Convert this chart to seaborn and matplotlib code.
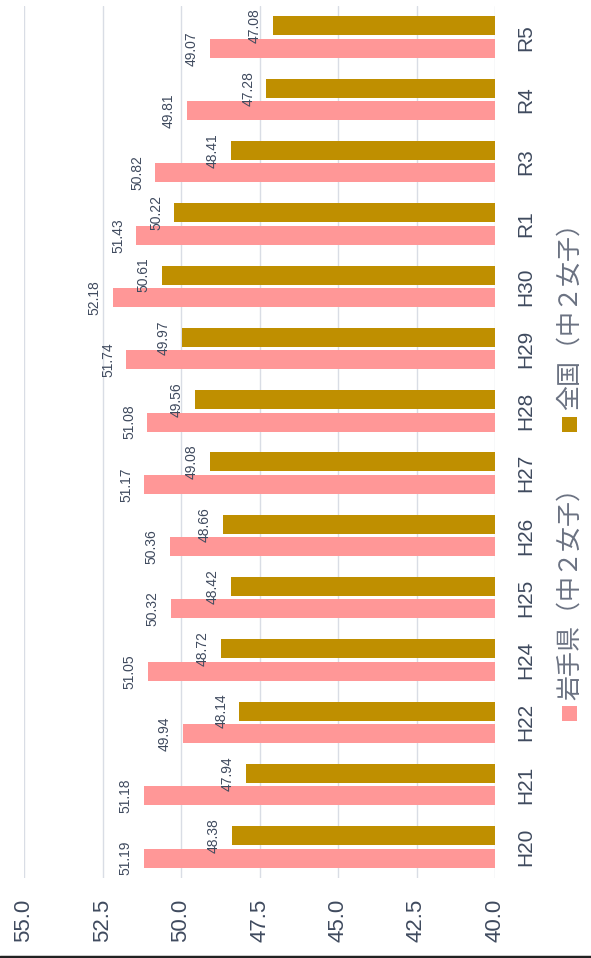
import pandas as pd
import numpy as np
import matplotlib
matplotlib.use("Agg")
import matplotlib.pyplot as plt
from matplotlib.patches import Rectangle
from matplotlib.lines import Line2D
import seaborn as sns

# data
years = ["H20", "H21", "H22", "H24", "H25", "H26", "H27", "H28", "H29", "H30", "R1", "R3", "R4", "R5"]
iwate = [51.19, 51.18, 49.94, 51.05, 50.32, 50.36, 51.17, 51.08, 51.74, 52.18, 51.43, 50.82, 49.81, 49.07]
zenkoku = [48.38, 47.94, 48.14, 48.72, 48.42, 48.66, 49.08, 49.56, 49.97, 50.61, 50.22, 48.41, 47.28, 47.08]
series = ["岩手県（中２女子）", "全国（中２女子）"]
value_ticks = [40.0, 42.5, 45.0, 47.5, 50.0, 52.5, 55.0]

df = pd.DataFrame({
    "year": years * 2,
    "score": iwate + zenkoku,
    "series": [series[0]] * len(years) + [series[1]] * len(years),
})

sns.set_style("white")
plt.rcParams['font.family'] = ['Liberation Sans', 'Noto Sans CJK JP', 'DejaVu Sans']

pink = "#FF9797"
gold = "#BF8F00"
txt = "#3f4a5e"

fig = plt.figure(figsize=(5.91, 9.58), dpi=100)
ax = fig.add_axes([24 / 591, 80 / 958, (495 - 24) / 591, (952 - 80) / 958])

sns.barplot(data=df, y="year", x="score", hue="series", order=years,
            hue_order=series, palette=[pink, gold], saturation=1, orient="h",
            errorbar=None, width=0.72, gap=0.15, linewidth=0,
            legend=False, ax=ax)

ax.set_xlim(55, 40)
ax.set_ylim(-0.5, len(years) - 0.5)
ax.set_xticks(value_ticks)
ax.set_xticklabels([f"{v:.1f}" for v in value_ticks], rotation=90,
                   fontsize=16, color=txt)
ax.yaxis.tick_right()
ax.set_yticks(range(len(years)))
ax.set_yticklabels(years, rotation=90, va="center", fontsize=15, color=txt)
ax.tick_params(axis="x", length=0, pad=15)
ax.tick_params(axis="y", length=0, pad=15)
ax.set_xlabel("")
ax.set_ylabel("")
for s in ax.spines.values():
    s.set_visible(False)
ax.grid(axis="x", color="#d9dde5", lw=1)
ax.set_axisbelow(True)

for cont in ax.containers:
    ax.bar_label(cont, labels=[f"{b.get_width():.2f}" for b in cont],
                 rotation=90, padding=8, fontsize=10, color=txt)

# legend, rotated like the rest of the chart
leg_y = [713, 424]
leg_text_y = [700, 410]
for name, col, sy, ty in zip(series, [pink, gold], leg_y, leg_text_y):
    fig.add_artist(Rectangle((562 / 591, (958 - sy - 7.5) / 958), 15 / 591, 15 / 958,
                             transform=fig.transFigure, color=col, lw=0))
    fig.text(569.5 / 591, (958 - ty) / 958, name, rotation=90, ha="center",
             va="bottom", fontsize=18, color="#6b7282",
             family=["Noto Sans CJK JP", "DejaVu Sans"])

fig.add_artist(Line2D([0, 1], [1.2 / 958, 1.2 / 958], color="#222222", lw=2.5,
                      transform=fig.transFigure))

fig.savefig("out.png", dpi=100)
